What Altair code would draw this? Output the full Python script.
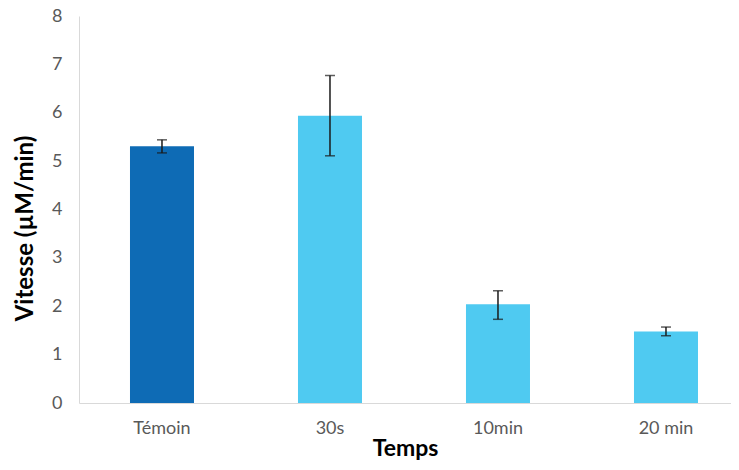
import altair as alt
import pandas as pd

categories = ["Témoin", "30s", "10min", "20 min"]
values = [5.31, 5.94, 2.04, 1.48]
err_low = [5.17, 5.11, 1.73, 1.39]
err_high = [5.44, 6.77, 2.32, 1.57]
colors = ["#0E6BB5", "#4FCAF1", "#4FCAF1", "#4FCAF1"]

df = pd.DataFrame({"cat": categories, "val": values, "lo": err_low, "hi": err_high})

FONT = "Lato"

x = alt.X(
    "cat:N",
    sort=categories,
    title="Temps",
    scale=alt.Scale(paddingInner=0.619, paddingOuter=0.25, align=0.607),
    axis=alt.Axis(
        labelAngle=0, ticks=False, domainColor="#d9d9d9", domainWidth=1,
        labelColor="#595959", labelFontSize=18, labelPadding=16, labelFont=FONT,
        titleFontSize=23, titleFontWeight="bold", titleColor="#000000",
        titleFont=FONT, titlePadding=0,
    ),
)
y_scale = alt.Scale(domain=[0, 8], nice=False)
y_axis = alt.Axis(
    values=[0, 1, 2, 3, 4, 5, 6, 7, 8], grid=False, ticks=False,
    domainColor="#d9d9d9", domainWidth=1, labelColor="#595959",
    labelFontSize=18, labelPadding=17, labelFont=FONT,
    titleFontSize=24, titleFontWeight="bold", titleColor="#000000",
    titleFont=FONT, titlePadding=14, titleY=212, format="d",
)

bars = alt.Chart(df).mark_bar().encode(
    x=x,
    y=alt.Y("val:Q", scale=y_scale, axis=y_axis, title="Vitesse (µM/min)"),
    color=alt.Color("cat:N", scale=alt.Scale(domain=categories, range=colors), legend=None),
)

rules = alt.Chart(df).mark_rule(color="#1a1a1a", strokeWidth=1.5).encode(
    x=alt.X("cat:N", sort=categories),
    y=alt.Y("lo:Q", scale=y_scale),
    y2="hi:Q",
)
caps_lo = alt.Chart(df).mark_tick(color="#1a1a1a", size=10, thickness=1.5).encode(
    x=alt.X("cat:N", sort=categories),
    y=alt.Y("lo:Q", scale=y_scale),
)
caps_hi = alt.Chart(df).mark_tick(color="#1a1a1a", size=10, thickness=1.5).encode(
    x=alt.X("cat:N", sort=categories),
    y=alt.Y("hi:Q", scale=y_scale),
)

chart = (
    alt.layer(bars, rules, caps_lo, caps_hi)
    .properties(
        width=652, height=387,
        padding={"left": 71, "top": 8, "right": 0, "bottom": 59},
        autosize=alt.AutoSizeParams(type="none"),
    )
    .configure_view(stroke=None)
)

chart.save("out.html", embed_options={"renderer": "svg", "actions": False})
